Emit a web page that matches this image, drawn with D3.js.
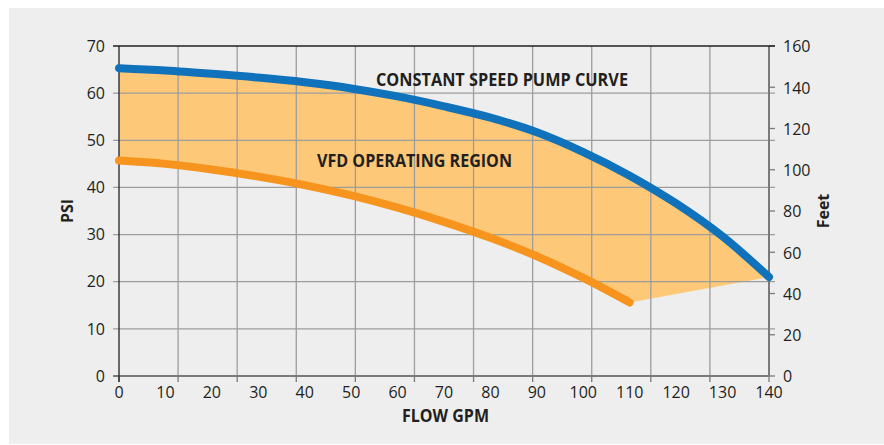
<!DOCTYPE html>
<html>
<head>
<meta charset="utf-8">
<script src="https://cdn.jsdelivr.net/npm/d3@7"></script>
<style>
  body { margin: 0; background: #fff; }
  svg { display: block; }
  text { font-family: "Open Sans", "Noto Sans", sans-serif; fill: #231f20; }
</style>
</head>
<body>
<svg id="chart" width="884" height="445"></svg>
<script>
// pump curve data
const flowGpm = [0, 10, 20, 30, 40, 50, 60, 70, 80, 90, 100, 110, 120, 130, 140];
const pumpCurvePsi = [65.3, 64.8, 64.1, 63.3, 62.3, 61.0, 59.3, 57.2, 54.8, 51.7, 47.5, 42.5, 36.6, 29.6, 21.0];

const vfdFlowGpm = [0, 10, 20, 30, 40, 50, 60, 70, 80, 90, 100, 110];
const vfdMinPsi = [45.7, 45.0, 43.8, 42.3, 40.5, 38.3, 35.7, 32.7, 29.3, 25.4, 20.8, 15.6];

const flowTicks = [0, 10, 20, 30, 40, 50, 60, 70, 80, 90, 100, 110, 120, 130, 140];
const psiTicks = [0, 10, 20, 30, 40, 50, 60, 70];
const feetTicks = [0, 20, 40, 60, 80, 100, 120, 140, 160];
const verticalGridCount = 11; // the vertical grid is split in 11, not at the labels

const width = 884, height = 445;
const margin = { top: 46, right: 115, bottom: 69, left: 119 };

const svg = d3.select("#chart");

svg.append("rect")
    .attr("x", 9).attr("y", 8)
    .attr("width", width - 9).attr("height", height - 9)
    .attr("fill", "#eeeeee");

const x = d3.scaleLinear().domain([0, 140]).range([margin.left, width - margin.right]);
const y = d3.scaleLinear().domain([0, 70]).range([height - margin.bottom, margin.top]);
const yFeet = d3.scaleLinear().domain([0, 160]).range([height - margin.bottom, margin.top]);

const pumpPts = flowGpm.map((f, i) => [f, pumpCurvePsi[i]]);
const vfdPts = vfdFlowGpm.map((f, i) => [f, vfdMinPsi[i]]);

const line = d3.line()
    .x(d => x(d[0]))
    .y(d => y(d[1]))
    .curve(d3.curveMonotoneX);

// operating region: under pump curve, over the vfd curve, closed by a straight edge
const topEdge = line(pumpPts);
const bottomEdge = line(vfdPts.slice().reverse()).replace(/^M/, "L");
svg.append("path")
    .attr("d", topEdge + bottomEdge + "Z")
    .attr("fill", "#fdc878");

// grid
const gridColor = "#9d9d9d";
const vGrid = d3.range(1, verticalGridCount).map(i => 140 * i / verticalGridCount);
const vTicks = d3.range(0, verticalGridCount + 1).map(i => 140 * i / verticalGridCount);

svg.append("g").selectAll("line")
    .data(vGrid)
    .join("line")
    .attr("x1", d => x(d)).attr("x2", d => x(d))
    .attr("y1", y(70)).attr("y2", y(0))
    .attr("stroke", gridColor).attr("stroke-width", 1.3);

svg.append("g").selectAll("line")
    .data(psiTicks.filter(d => d > 0 && d < 70))
    .join("line")
    .attr("x1", x(0) - 6).attr("x2", x(140) + 6)
    .attr("y1", d => y(d)).attr("y2", d => y(d))
    .attr("stroke", gridColor).attr("stroke-width", 1.3);

// bottom tick marks
svg.append("g").selectAll("line")
    .data(vTicks)
    .join("line")
    .attr("x1", d => x(d)).attr("x2", d => x(d))
    .attr("y1", y(0)).attr("y2", y(0) + 6)
    .attr("stroke", "#7a7a7a").attr("stroke-width", 1.3);

// right ticks for feet
svg.append("g").selectAll("line")
    .data(feetTicks)
    .join("line")
    .attr("x1", x(140)).attr("x2", x(140) + 6)
    .attr("y1", d => yFeet(d)).attr("y2", d => yFeet(d))
    .attr("stroke", "#7a7a7a").attr("stroke-width", 1.3);

// axis frame
svg.append("line")
    .attr("x1", x(0) - 6).attr("x2", x(140))
    .attr("y1", y(0)).attr("y2", y(0))
    .attr("stroke", "#7a7a7a").attr("stroke-width", 2);
svg.append("line")
    .attr("x1", x(140)).attr("x2", x(140))
    .attr("y1", y(70)).attr("y2", y(0))
    .attr("stroke", "#7a7a7a").attr("stroke-width", 2);
svg.append("line")
    .attr("x1", x(0) - 6).attr("x2", x(140) + 6)
    .attr("y1", y(70)).attr("y2", y(70))
    .attr("stroke", "#231f20").attr("stroke-width", 1.3);
svg.append("line")
    .attr("x1", x(0)).attr("x2", x(0))
    .attr("y1", y(70)).attr("y2", y(0) + 6)
    .attr("stroke", "#231f20").attr("stroke-width", 1.3);

// curves
svg.append("path")
    .attr("d", line(vfdPts))
    .attr("fill", "none")
    .attr("stroke", "#f7941d")
    .attr("stroke-width", 8)
    .attr("stroke-linecap", "round");

svg.append("path")
    .attr("d", line(pumpPts))
    .attr("fill", "none")
    .attr("stroke", "#0f72ba")
    .attr("stroke-width", 8)
    .attr("stroke-linecap", "round");

// tick labels
svg.append("g").selectAll("text")
    .data(psiTicks)
    .join("text")
    .attr("x", x(0) - 14)
    .attr("y", d => y(d))
    .attr("dy", "0.36em")
    .attr("text-anchor", "end")
    .style("font-size", "16px")
    .text(d => d);

svg.append("g").selectAll("text")
    .data(feetTicks)
    .join("text")
    .attr("x", x(140) + 14)
    .attr("y", d => yFeet(d))
    .attr("dy", "0.4em")
    .style("font-size", "16px")
    .text(d => d);

svg.append("g").selectAll("text")
    .data(flowTicks)
    .join("text")
    .attr("x", d => x(d))
    .attr("y", y(0) + 22)
    .attr("text-anchor", "middle")
    .style("font-size", "16px")
    .text(d => d);

// titles
function boldLabel(txt, px, py, len) {
    return svg.append("text")
        .attr("x", px).attr("y", py)
        .attr("textLength", len)
        .attr("lengthAdjust", "spacingAndGlyphs")
        .style("font-size", "17px")
        .style("font-weight", "bold")
        .text(txt);
}

boldLabel("CONSTANT SPEED PUMP CURVE", 376, 86, 252);
boldLabel("VFD OPERATING REGION", 317, 167, 195);
boldLabel("FLOW GPM", 402, 422, 87);

svg.append("text")
    .attr("transform", "translate(73, 211) rotate(-90)")
    .attr("text-anchor", "middle")
    .style("font-size", "16px")
    .style("font-weight", "bold")
    .text("PSI");

svg.append("text")
    .attr("transform", "translate(829, 211) rotate(-90)")
    .attr("text-anchor", "middle")
    .style("font-size", "16px")
    .style("font-weight", "bold")
    .text("Feet");
</script>
</body>
</html>
